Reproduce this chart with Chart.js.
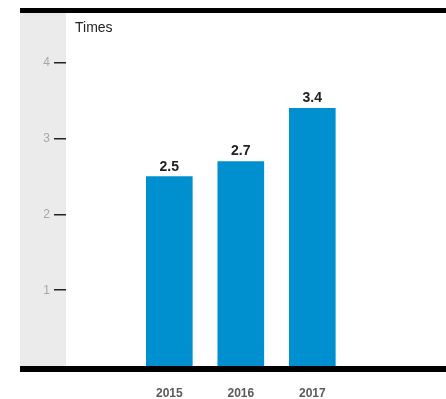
<!DOCTYPE html>
<html>
<head>
<meta charset="utf-8">
<script src="https://cdn.jsdelivr.net/npm/chart.js@4"></script>
<style>
  html, body { margin:0; padding:0; background:#fff; }
  #wrap { width:446px; height:399px; }
</style>
</head>
<body>
<div id="wrap"><canvas id="timesChart" width="446" height="399"></canvas></div>
<script>
// --- Données ---
const years = [2015, 2016, 2017];
const timesValues = [2.5, 2.7, 3.4];
const yTicks = [1, 2, 3, 4];
const unitLabel = 'Times';

const FONT = '"Liberation Sans", Arial, sans-serif';
const BAR_COLOR = '#0090d0';

// bande grise à gauche + filets noirs haut et bas
const framePlugin = {
  id:'frame',
  beforeDraw(chart) {
    const ctx = chart.ctx, area = chart.chartArea;
    ctx.save();
    ctx.fillStyle = '#ebebeb';
    ctx.fillRect(20, area.top, area.left - 20, area.bottom - area.top);
    ctx.restore();
  },
  afterDatasetsDraw(chart) {
    const ctx = chart.ctx, area = chart.chartArea, w = chart.width;
    ctx.save();
    ctx.fillStyle = '#000';
    ctx.fillRect(20, area.top - 5, w - 20, 5);
    ctx.fillRect(20, area.bottom, w - 20, 6);
    // unité
    ctx.fillStyle = '#222';
    ctx.font = '14px ' + FONT;
    ctx.textBaseline = 'alphabetic';
    ctx.textAlign = 'left';
    ctx.fillText(unitLabel, area.left + 9, 32);
    // valeurs au-dessus des barres
    ctx.font = 'bold 14px ' + FONT;
    ctx.textAlign = 'center';
    chart.getDatasetMeta(0).data.forEach((bar, i) => {
      ctx.fillText(timesValues[i].toFixed(1), bar.x, bar.y - 6);
    });
    ctx.restore();
  }
};

const ctx = document.getElementById('timesChart').getContext('2d');
const chart = new Chart(ctx, {
  type:'bar',
  data:{
    datasets:[{
      data: years.map((y, i) => ({ x:y, y:timesValues[i] })),
      backgroundColor: BAR_COLOR,
      borderWidth:0,
      barThickness:46
    }]
  },
  options:{
    responsive:false,
    animation:false,
    layout:{ padding:{ top:13, left:0, right:0, bottom:0 } },
    plugins:{ legend:{ display:false }, tooltip:{ enabled:false } },
    scales:{
      x:{
        type:'linear',
        min:2013.555,
        max:2018.87,
        offset:false,
        grid:{ display:false, drawTicks:false },
        border:{ display:false },
        afterFit(s){ s.height = 33; },
        afterBuildTicks(s){ s.ticks = years.map(v => ({ value:v })); },
        ticks:{ padding:20, color:'#5a5a5a', font:{ family:FONT, size:12, weight:'bold' }, callback:v => String(v) }
      },
      y:{
        min:0,
        max:4.66,
        grid:{ display:true, drawOnChartArea:false, drawTicks:true, tickLength:12, color:'#222', lineWidth:1.5 },
        border:{ display:false },
        afterFit(s){ s.width = 66; },
        afterBuildTicks(s){ s.ticks = yTicks.map(v => ({ value:v })); },
        ticks:{ padding:4, color:'#a8a8a8', font:{ family:FONT, size:12 } }
      }
    }
  },
  plugins:[framePlugin]
});
</script>
</body>
</html>
